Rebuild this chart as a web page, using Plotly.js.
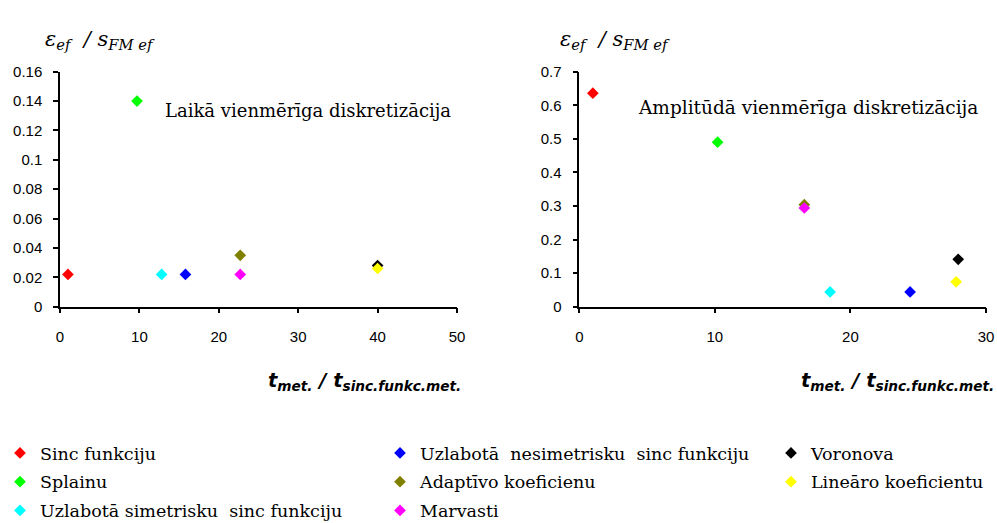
<!DOCTYPE html>
<html><head><meta charset="utf-8">
<script src="https://cdn.plot.ly/plotly-3.0.1.min.js"></script>
<style>body{margin:0;background:#fff}</style>
</head><body><div id="chart" style="width:997px;height:523px"></div>
<script>
const methods = ['Sinc funkciju', 'Splainu', 'Uzlabotā simetrisku  sinc funkciju', 'Uzlabotā  nesimetrisku  sinc funkciju', 'Adaptīvo koeficienu', 'Marvasti', 'Voronova', 'Lineāro koeficientu'];
const colors = ['#FF0000', '#00FF00', '#00FFFF', '#0000FF', '#808000', '#FF00FF', '#000000', '#FFFF00'];
const legendCols = ['legend', 'legend', 'legend', 'legend2', 'legend2', 'legend2', 'legend3', 'legend3'];
const timeX = [1, 9.7, 12.8, 15.8, 22.7, 22.7, 40, 40];
const timeY = [0.022, 0.14, 0.022, 0.022, 0.035, 0.022, 0.028, 0.026];
const ampX = [1, 10.2, 18.5, 24.4, 16.6, 16.6, 27.95, 27.8];
const ampY = [0.636, 0.49, 0.044, 0.044, 0.304, 0.294, 0.141, 0.074];
const panelTitles = ['Laikā vienmērīga diskretizācija', 'Amplitūdā vienmērīga diskretizācija'];
const yTitle = '<i>ε</i><sub><i>ef</i></sub>  <i>/</i> <i>s</i><sub><i>FM ef</i></sub>';
const xTitle = '<b><i>t</i></b><sub><b><i>met.</i></b></sub><b><i> / t</i></b><sub><b><i>sinc.funkc.met.</i></b></sub>';

const W = 997, H = 523;
const px = v => v / W, py = v => 1 - v / H;
const serif = 'DejaVu Serif';
const sans = 'Liberation Sans';

const traces = [];
methods.forEach((m, i) => {
  traces.push({
    type: 'scatter', mode: 'markers', name: m, x: [timeX[i]], y: [timeY[i]],
    xaxis: 'x', yaxis: 'y', legend: legendCols[i], legendgroup: 'g' + i,
    marker: {symbol: 'diamond', size: 9, color: colors[i], line: {width: 0}},
    showlegend: true, hoverinfo: 'x+y+name'
  });
});
methods.forEach((m, i) => {
  traces.push({
    type: 'scatter', mode: 'markers', name: m, x: [ampX[i]], y: [ampY[i]],
    xaxis: 'x2', yaxis: 'y2', legend: legendCols[i], legendgroup: 'g' + i,
    marker: {symbol: 'diamond', size: 9, color: colors[i], line: {width: 0}},
    showlegend: false, hoverinfo: 'x+y+name'
  });
});

const axisCommon = {
  showgrid: false, zeroline: false, showline: true, linecolor: '#000', linewidth: 1.5,
  ticks: 'outside', ticklen: 5, tickcolor: '#000', tickwidth: 1.5,
  tickfont: {family: sans, size: 15, color: '#000'}, fixedrange: true, automargin: false
};
const legendCommon = {
  orientation: 'v', yanchor: 'top', xanchor: 'left', xref: 'container', yref: 'container', y: py(435),
  font: {family: serif, size: 17.5, color: '#000'}, bgcolor: 'rgba(0,0,0,0)',
  borderwidth: 0, tracegroupgap: 3, itemclick: false, itemdoubleclick: false
};

const layout = {
  width: W, height: H, margin: {l: 0, r: 0, t: 0, b: 0, autoexpand: false},
  paper_bgcolor: '#fff', plot_bgcolor: '#fff',
  xaxis: Object.assign({}, axisCommon, {domain: [px(60), px(457)], range: [0, 50], dtick: 10, anchor: 'y', ticklabelstandoff: 11}),
  yaxis: Object.assign({}, axisCommon, {domain: [py(306.7), py(71.7)], range: [0, 0.16], dtick: 0.02, anchor: 'x', ticklabelstandoff: 8}),
  xaxis2: Object.assign({}, axisCommon, {domain: [px(579.3), px(986)], range: [0, 30], dtick: 10, anchor: 'y2', ticklabelstandoff: 11}),
  yaxis2: Object.assign({}, axisCommon, {domain: [py(306.7), py(71.7)], range: [0, 0.7], dtick: 0.1, anchor: 'x2', ticklabelstandoff: 8}),
  showlegend: true,
  legend: Object.assign({}, legendCommon, {x: 0}),
  legend2: Object.assign({}, legendCommon, {x: px(380)}),
  legend3: Object.assign({}, legendCommon, {x: px(771)}),
  annotations: [
    {text: panelTitles[0], xref: 'paper', yref: 'paper', x: px(163), y: py(110), xanchor: 'left', yanchor: 'middle', showarrow: false, font: {family: serif, size: 18, color: '#000'}},
    {text: panelTitles[1], xref: 'paper', yref: 'paper', x: px(636), y: py(108), xanchor: 'left', yanchor: 'middle', showarrow: false, font: {family: serif, size: 18.5, color: '#000'}},
    {text: yTitle, xref: 'paper', yref: 'paper', x: px(43), y: py(40), xanchor: 'left', yanchor: 'middle', showarrow: false, font: {family: serif, size: 21, color: '#000'}},
    {text: yTitle, xref: 'paper', yref: 'paper', x: px(558), y: py(40), xanchor: 'left', yanchor: 'middle', showarrow: false, font: {family: serif, size: 21, color: '#000'}},
    {text: xTitle, xref: 'paper', yref: 'paper', x: px(463), y: py(381), xanchor: 'right', yanchor: 'middle', showarrow: false, font: {family: 'DejaVu Sans', size: 19.5, color: '#000'}},
    {text: xTitle, xref: 'paper', yref: 'paper', x: px(996), y: py(381), xanchor: 'right', yanchor: 'middle', showarrow: false, font: {family: 'DejaVu Sans', size: 19.5, color: '#000'}}
  ]
};

Plotly.newPlot('chart', traces, layout, {displayModeBar: false, staticPlot: false});
</script></body></html>
